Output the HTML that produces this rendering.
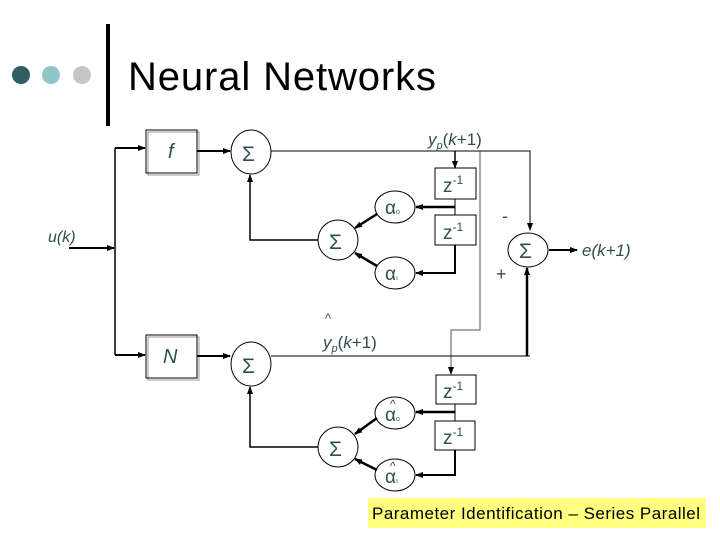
<!DOCTYPE html>
<html><head><style>
body{margin:0;background:#fff;}
svg{display:block;}
text{font-family:"Liberation Sans",sans-serif;}
</style></head><body>
<svg width="720" height="540" viewBox="0 0 720 540" xmlns="http://www.w3.org/2000/svg">
<defs>
<marker id="a" markerWidth="8" markerHeight="8" refX="7" refY="4" orient="auto" markerUnits="userSpaceOnUse"><path d="M0,1 L8,4 L0,7 z" fill="#000"/></marker>
</defs>
<circle cx="21" cy="75" r="9" fill="#2f5f62"/>
<circle cx="51" cy="75" r="9" fill="#8fc6c8"/>
<circle cx="82" cy="75" r="9" fill="#c6c6c6"/>
<rect x="106" y="24" width="4" height="102" fill="#000"/>
<text x="128" y="90" font-size="40" textLength="308">Neural Networks</text>

<g stroke="#000" fill="none">
<line x1="115" y1="148" x2="115" y2="355" stroke-width="1.5"/>
<line x1="69" y1="248" x2="114" y2="248" stroke-width="2" marker-end="url(#a)"/>
<line x1="115" y1="148" x2="145" y2="148" stroke-width="2" marker-end="url(#a)"/>
<line x1="115" y1="355" x2="145" y2="355" stroke-width="2" marker-end="url(#a)"/>
<rect x="148" y="132" width="51" height="43" stroke="#999"/>
<rect x="146" y="130" width="51" height="43"/>
<rect x="148" y="337" width="51" height="43" stroke="#999"/>
<rect x="146" y="335" width="51" height="43"/>
<line x1="197" y1="151" x2="230" y2="151" stroke-width="2" marker-end="url(#a)"/>
<line x1="197" y1="356" x2="230" y2="356" stroke-width="2" marker-end="url(#a)"/>
<ellipse cx="251" cy="152" rx="20" ry="22"/>
<polyline points="271,151 530,151 530,230" marker-end="url(#a)"/>
<polyline points="455,151 455,168" stroke-width="1.5" marker-end="url(#a)"/>
<rect x="435" y="168" width="41" height="31"/>
<rect x="435" y="215" width="41" height="30"/>
<line x1="455" y1="199" x2="455" y2="215"/>
<line x1="455" y1="207" x2="416" y2="207" stroke-width="2.5" marker-end="url(#a)"/>
<polyline points="455,245 455,273 416,273" stroke-width="2" marker-end="url(#a)"/>
<ellipse cx="395" cy="207" rx="20" ry="16"/>
<ellipse cx="395" cy="273" rx="20" ry="16"/>
<ellipse cx="338" cy="240" rx="20" ry="20"/>
<line x1="377" y1="214" x2="355" y2="228" stroke-width="2.5" marker-end="url(#a)"/>
<line x1="377" y1="266" x2="355" y2="253" stroke-width="2.5" marker-end="url(#a)"/>
<polyline points="318,240 250,240 250,175" stroke-width="1.5" marker-end="url(#a)"/>
<ellipse cx="528" cy="250" rx="20" ry="17"/>
<line x1="549" y1="250" x2="577" y2="250" stroke-width="2" marker-end="url(#a)"/>
<line x1="527" y1="356" x2="527" y2="268" stroke-width="2.5" marker-end="url(#a)"/>
<polyline points="480,150 480,330 451,330 451,374" stroke="#555" marker-end="url(#a)"/>
<ellipse cx="251" cy="364" rx="20" ry="22"/>
<line x1="271" y1="356" x2="530" y2="356"/>
<rect x="436" y="375" width="40" height="29"/>
<rect x="435" y="421" width="40" height="29"/>
<line x1="455" y1="404" x2="455" y2="421"/>
<line x1="455" y1="412" x2="416" y2="412" stroke-width="2.5" marker-end="url(#a)"/>
<polyline points="455,450 455,475 416,475" stroke-width="2" marker-end="url(#a)"/>
<ellipse cx="395" cy="413" rx="20" ry="16"/>
<ellipse cx="395" cy="475" rx="20" ry="16"/>
<ellipse cx="338" cy="447" rx="20" ry="20"/>
<line x1="377" y1="418" x2="355" y2="434" stroke-width="2.5" marker-end="url(#a)"/>
<line x1="377" y1="470" x2="355" y2="459" stroke-width="2.5" marker-end="url(#a)"/>
<polyline points="318,447 250,447 250,387" stroke-width="1.5" marker-end="url(#a)"/>
</g>

<g fill="#2f4f4f" font-size="18">
<text x="168" y="158" font-style="italic" font-size="20">f</text>
<text x="163" y="363" font-style="italic" font-size="20">N</text>
<text x="48" y="242" font-style="italic" font-size="16">u(k)</text>
<text x="242" y="161" font-family="Liberation Serif" font-size="21">Σ</text>
<text x="242" y="373" font-family="Liberation Serif" font-size="21">Σ</text>
<text x="329" y="249" font-family="Liberation Serif" font-size="21">Σ</text>
<text x="329" y="456" font-family="Liberation Serif" font-size="21">Σ</text>
<text x="519" y="258" font-family="Liberation Serif" font-size="21">Σ</text>
<text x="428" y="145" font-size="17"><tspan font-style="italic">y</tspan><tspan font-size="11" dy="4" font-style="italic">p</tspan><tspan dy="-4">(</tspan><tspan font-style="italic">k</tspan>+1)</text>
<text x="325" y="323" font-size="13">^</text>
<text x="323" y="348" font-size="17"><tspan font-style="italic">y</tspan><tspan font-size="11" dy="4" font-style="italic">p</tspan><tspan dy="-4">(</tspan><tspan font-style="italic">k</tspan>+1)</text>
<text x="582" y="256" font-size="17" font-style="italic">e(k+1)</text>
<text x="443" y="192" font-size="19">z<tspan font-size="12" dy="-8">-1</tspan></text>
<text x="443" y="239" font-size="19">z<tspan font-size="12" dy="-8">-1</tspan></text>
<text x="443" y="398" font-size="19">z<tspan font-size="12" dy="-8">-1</tspan></text>
<text x="443" y="444" font-size="19">z<tspan font-size="12" dy="-8">-1</tspan></text>
<text x="385" y="214" font-size="19">α<tspan font-size="7">o</tspan></text>
<text x="385" y="280" font-size="19">α<tspan font-size="7">ı</tspan></text>
<text x="390" y="408" font-size="12">^</text>
<text x="385" y="421" font-size="19">α<tspan font-size="7">o</tspan></text>
<text x="390" y="470" font-size="12">^</text>
<text x="385" y="483" font-size="19">α<tspan font-size="7">ı</tspan></text>
<text x="502" y="222" font-size="18">-</text>
<text x="496" y="280" font-size="18">+</text>
</g>

<rect x="368" y="498" width="338" height="30" fill="#ffff80"/>
<text x="372" y="519" font-size="17" fill="#000" textLength="328">Parameter Identification – Series Parallel</text>
</svg>
</body></html>
